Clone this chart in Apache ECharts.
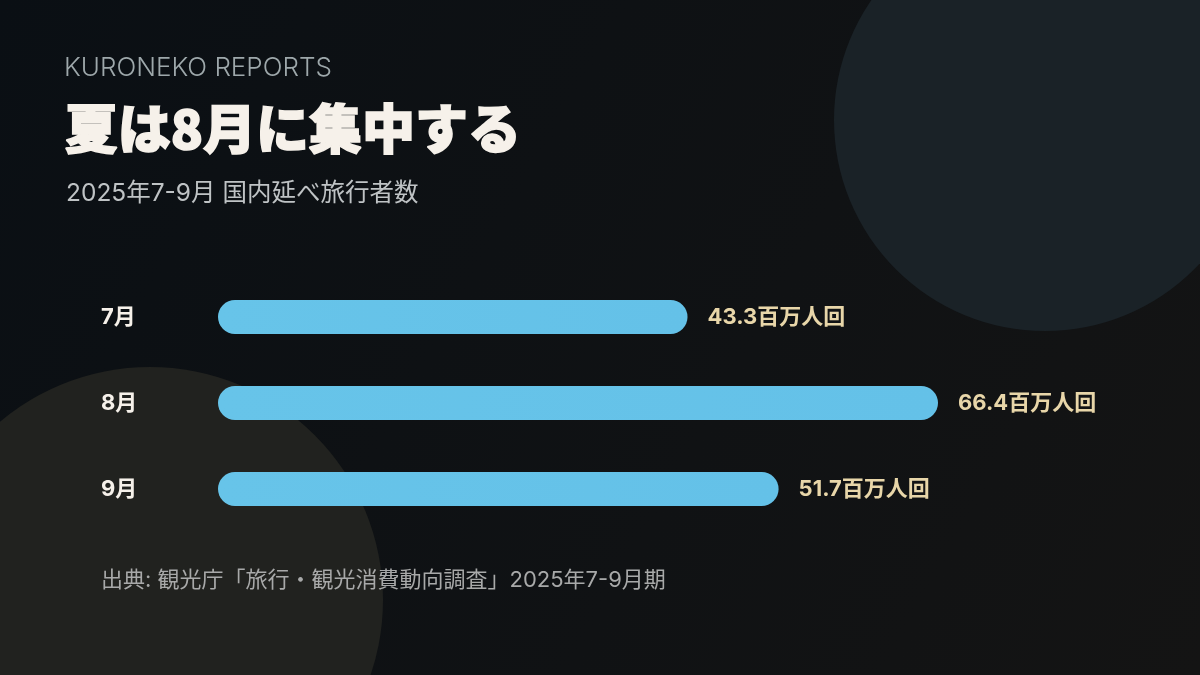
<!DOCTYPE html>
<html>
<head>
<meta charset="utf-8">
<script src="https://cdn.jsdelivr.net/npm/echarts@6/dist/echarts.min.js"></script>
<style>
  html, body { margin: 0; padding: 0; background: #0c1015; }
  #chart { width: 1200px; height: 675px; }
</style>
</head>
<body>
<div id="chart"></div>
<script>
// 月ごとの国内延べ旅行者数（百万人回）
const months = ['7月', '8月', '9月']
const travelers = [43.3, 66.4, 51.7]
const unit = '百万人回'

const jp = 'Inter, "Noto Sans CJK JP", sans-serif'

const chart = echarts.init(document.getElementById('chart'))
chart.setOption({
  backgroundColor: {
    type: 'linear', x: 0, y: 0, x2: 1, y2: 1,
    colorStops: [
      { offset: 0, color: '#0a0f14' },
      { offset: 1, color: '#141414' }
    ]
  },
  graphic: [
    // 背景の円
    { type: 'circle', z: -10, shape: { cx: 1045, cy: 120, r: 211 }, style: { fill: '#1a2227' } },
    { type: 'circle', z: -10, shape: { cx: 150, cy: 600, r: 233 }, style: { fill: '#21221f' } },
    {
      type: 'text', left: 64, top: 55,
      style: { text: 'KURONEKO REPORTS', fill: '#9ea8ab', font: '300 26px Inter, sans-serif' }
    },
    {
      type: 'text', left: 64, top: 102,
      style: {
        text: '夏は8月に集中する', fill: '#f6f1ea', font: '900 53px "Noto Sans CJK JP", sans-serif',
        stroke: '#f6f1ea', lineWidth: 1.6
      }
    },
    {
      type: 'text', left: 66, top: 181,
      style: { text: '2025年7-9月 国内延べ旅行者数', fill: '#bfc3c5', font: '400 24.5px ' + jp }
    },
    {
      type: 'text', left: 101, top: 569,
      style: { text: '出典: 観光庁「旅行・観光消費動向調査」2025年7-9月期', fill: '#a8a9a9', font: '400 22px ' + jp }
    }
  ],
  grid: { left: 218, right: 262, top: 274, bottom: 143 },
  xAxis: {
    type: 'value', min: 0, max: 66.4,
    show: false
  },
  yAxis: {
    type: 'category',
    data: months,
    inverse: true,
    axisLine: { show: false },
    axisTick: { show: false },
    splitLine: { show: false },
    axisLabel: {
      align: 'left',
      margin: 117,
      color: '#f6f1ea',
      fontSize: 22,
      fontWeight: 'bold',
      fontFamily: jp
    }
  },
  series: [
    {
      type: 'bar',
      data: travelers,
      barWidth: 34,
      itemStyle: {
        borderRadius: 17,
        color: {
          type: 'linear', x: 0, y: 0, x2: 1, y2: 0,
          colorStops: [
            { offset: 0, color: '#67c4e9' },
            { offset: 1, color: '#64c1e8' }
          ]
        }
      },
      label: {
        show: true,
        position: 'right',
        distance: 20,
        formatter: p => p.value + unit,
        color: '#e8d6a9',
        fontSize: 22,
        fontWeight: 'bold',
        fontFamily: jp
      },
      silent: true
    }
  ]
})
</script>
</body>
</html>
